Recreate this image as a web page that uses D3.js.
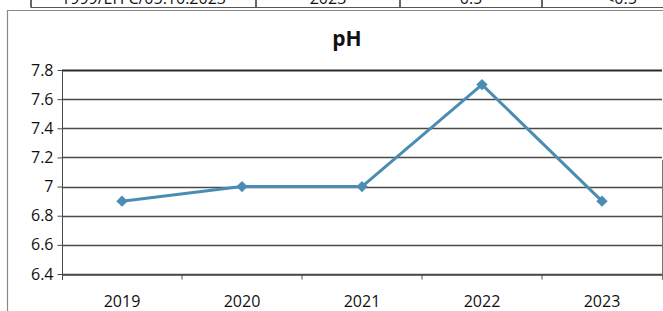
<!DOCTYPE html>
<html><head><meta charset="utf-8">
<script src="https://cdn.jsdelivr.net/npm/d3@7"></script>
<style>
html,body{margin:0;padding:0;background:#fff;}
svg{display:block;}
text{font-family:"Open Sans","Liberation Sans",sans-serif;fill:#111;}
</style></head>
<body>
<svg id="c" width="663" height="311"></svg>
<script>
const years = ["2019","2020","2021","2022","2023"];
const phValues = [6.9, 7.0, 7.0, 7.7, 6.9];
const yTicks = [6.4, 6.6, 6.8, 7.0, 7.2, 7.4, 7.6, 7.8];
const yTickLabels = ["6.4","6.6","6.8","7","7.2","7.4","7.6","7.8"];
const title = "pH";
const tableCells = ["1999/EH C/05.10.2023", "2023", "0.5", "<0.5"];

const svg = d3.select("#c");
const W = 663, H = 311;
const mLeft = 62, mRight = 662, mTop = 70, mBottom = 274;

const x = d3.scaleBand().domain(years).range([mLeft, mRight]).padding(0);
const y = d3.scaleLinear().domain([6.4, 7.8]).range([mBottom, mTop]);

// partial table at top
const tableX = [31, 256, 400, 542, 700];
svg.append("line").attr("x1", 31).attr("x2", W).attr("y1", 7.5).attr("y2", 7.5)
  .attr("stroke", "#555").attr("stroke-width", 1.2);
tableX.slice(0, 4).forEach(v => {
  svg.append("line").attr("x1", v).attr("x2", v).attr("y1", 0).attr("y2", 7.5)
    .attr("stroke", "#333").attr("stroke-width", 1.5);
});
tableCells.forEach((t, i) => {
  svg.append("text").attr("x", (tableX[i] + tableX[i + 1]) / 2).attr("y", 4)
    .attr("text-anchor", "middle").attr("font-size", 16).text(t);
});
// chart border
svg.append("path").attr("d", `M7.5,${H} V10.5 H${W}`)
  .attr("fill", "none").attr("stroke", "#888").attr("stroke-width", 1.2);
svg.append("line").attr("x1", 662.5).attr("x2", 662.5).attr("y1", 160).attr("y2", 280)
  .attr("stroke", "#777").attr("stroke-width", 1);

// title
svg.append("text").attr("x", 347).attr("y", 46).attr("text-anchor", "middle")
  .attr("font-size", 21).attr("font-weight", "bold").text(title);

// gridlines
svg.append("g").selectAll("line").data(yTicks).join("line")
  .attr("x1", mLeft).attr("x2", mRight)
  .attr("y1", d => Math.round(y(d)) + 0.5).attr("y2", d => Math.round(y(d)) + 0.5)
  .attr("stroke", d => d === 7.8 ? "#2a2a2a" : "#4a4a4a")
  .attr("stroke-width", d => d === 7.8 ? 1.8 : 1.3);

// y axis
const yAxis = d3.axisLeft(y).tickValues(yTicks).tickSize(5).tickPadding(4)
  .tickFormat((d, i) => yTickLabels[i]);
const gy = svg.append("g").attr("transform", `translate(${mLeft + 0.5},0)`).call(yAxis);
gy.select(".domain").attr("stroke", "#4a4a4a").attr("d", `M0,${mTop}V${mBottom + 6}`);
gy.selectAll(".tick line").attr("stroke", "#4a4a4a");
gy.selectAll(".tick text").attr("font-size", 16).attr("fill", "#111")
  .attr("font-family", "'Open Sans','Liberation Sans',sans-serif");

// x axis
const xAxis = d3.axisBottom(x).tickSize(0).tickPadding(21);
const gx = svg.append("g").attr("transform", `translate(0,${Math.round(mBottom) + 0.5})`).call(xAxis);
gx.select(".domain").attr("stroke", "#4a4a4a").attr("stroke-width", 1.3);
gx.selectAll(".tick text").attr("font-size", 16).attr("fill", "#111")
  .attr("font-family", "'Open Sans','Liberation Sans',sans-serif");
gx.append("g").selectAll("line").data(years.slice(1)).join("line")
  .attr("x1", d => x(d)).attr("x2", d => x(d)).attr("y1", 0).attr("y2", 5)
  .attr("stroke", "#4a4a4a");

// line
const cx = d => x(d) + x.bandwidth() / 2;
const line = d3.line().x((d, i) => cx(years[i])).y(d => y(d));
svg.append("path").datum(phValues).attr("d", line)
  .attr("fill", "none").attr("stroke", "#4b8db2").attr("stroke-width", 3)
  .attr("stroke-linejoin", "round");

// markers (square rotated 45deg)
const marker = d3.symbol().type(d3.symbolSquare).size(64);
svg.append("g").selectAll("path").data(phValues).join("path")
  .attr("d", marker)
  .attr("transform", (d, i) => `translate(${cx(years[i])},${y(d)}) rotate(45)`)
  .attr("fill", "#4b8db2");
</script>
</body></html>
